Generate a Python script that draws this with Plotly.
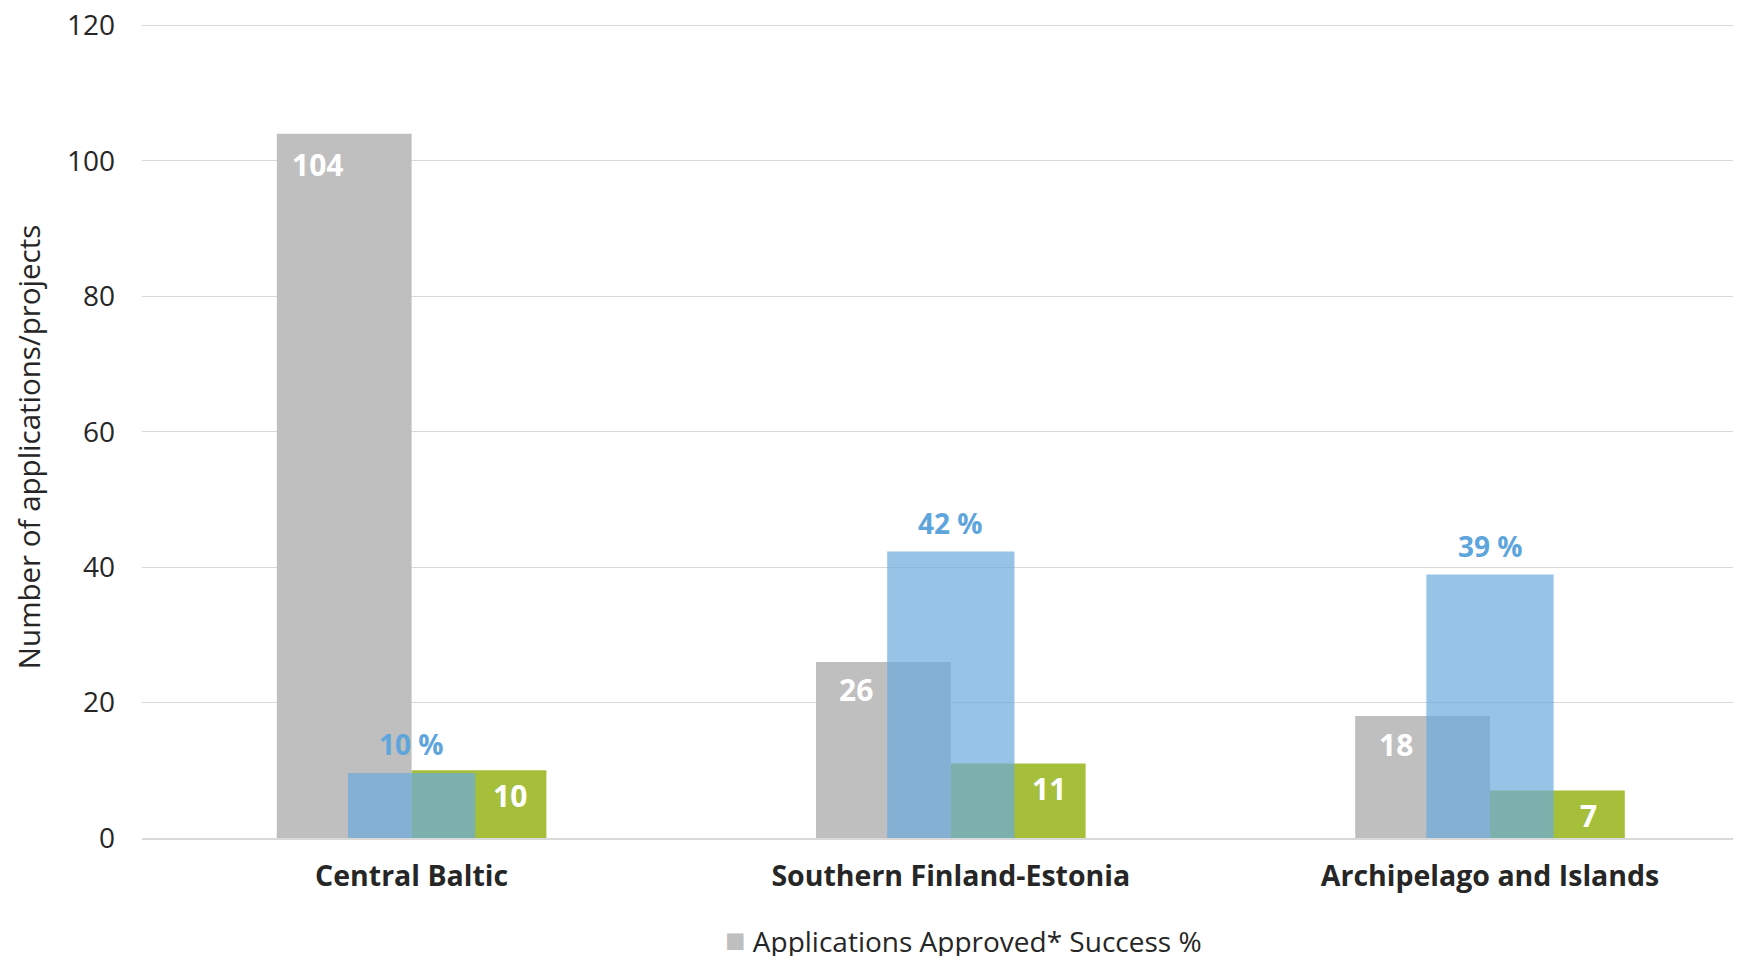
import plotly.graph_objects as go

categories = ["Central Baltic", "Southern Finland-Estonia", "Archipelago and Islands"]
applications = [104, 26, 18]
approved = [10, 11, 7]
success_pct = [9.6, 42.3, 38.9]
success_labels = ["10 %", "42 %", "39 %"]
y_ticks = [0, 20, 40, 60, 80, 100, 120]

GRAY = "#BFBFBF"
GREEN = "#A5BF3B"
BLUE = "rgba(107,169,221,0.7)"
BLUE_TXT = "#5DA5DB"
FONT = "Open Sans"

xs = list(range(len(categories)))

fig = go.Figure()
fig.add_trace(go.Bar(x=xs, y=applications, name="Applications", marker=dict(color=GRAY, line=dict(width=0)),
                     offset=-0.25, width=0.25))
fig.add_trace(go.Bar(x=xs, y=approved, name="Approved*", marker=dict(color=GREEN, line=dict(width=0)),
                     offset=0.0, width=0.25))
fig.add_trace(go.Bar(x=xs, y=success_pct, name="Success %", marker=dict(color=BLUE, line=dict(width=0)),
                     offset=-0.118, width=0.236))

annotations = []
for i, v in enumerate(applications):
    annotations.append(dict(x=xs[i] - 0.175, y=v, xref="x", yref="y", text=str(v), showarrow=False,
                            yanchor="middle", yshift=-31 if v > 100 else -28,
                            font=dict(family=FONT, size=30, color="white", weight="bold")))
for i, v in enumerate(approved):
    annotations.append(dict(x=xs[i] + 0.183, y=v, xref="x", yref="y", text=str(v), showarrow=False,
                            yanchor="middle", yshift=-25,
                            font=dict(family=FONT, size=30, color="white", weight="bold")))
for i, v in enumerate(success_pct):
    annotations.append(dict(x=xs[i], y=v, xref="x", yref="y", text=success_labels[i], showarrow=False,
                            yanchor="middle", yshift=29,
                            font=dict(family=FONT, size=28, color=BLUE_TXT, weight="bold")))
# y-axis title (slightly below the plot centre, as in the original)
annotations.append(dict(x=-0.0713, y=0.479, xref="paper", yref="paper", showarrow=False,
                        xanchor="center", yanchor="middle", textangle=-90,
                        text="Number of applications/projects",
                        font=dict(family=FONT, size=29.5, color="#262626")))
# bottom legend line (clipped in the original)
annotations.append(dict(x=0.514, y=-0.124, xref="paper", yref="paper", showarrow=False,
                        xanchor="center", yanchor="middle",
                        text="<span style='color:#BFBFBF;font-size:34px'>■</span> Applications Approved* Success %",
                        font=dict(family=FONT, size=28, color="#262626")))

fig.update_layout(
    width=1733, height=956,
    margin=dict(l=134, r=0, t=14, b=126),
    paper_bgcolor="white", plot_bgcolor="white",
    barmode="overlay", showlegend=False,
    annotations=annotations,
    font=dict(family=FONT, color="#262626"),
)
fig.update_xaxes(
    range=[-0.5, 2.4655], tickmode="array", tickvals=xs, ticktext=categories,
    tickfont=dict(family=FONT, size=28.5, color="#262626", weight="bold"),
    showgrid=False, showline=True, linecolor="#D9D9D9", linewidth=1.5,
    ticks="", ticklabelstandoff=12, zeroline=False,
)
fig.update_yaxes(
    range=[0, 120.5], tickmode="array", tickvals=y_ticks,
    tickfont=dict(family=FONT, size=28, color="#262626"),
    showgrid=True, gridcolor="#D9D9D9", gridwidth=1.2, zeroline=False,
    ticks="", ticklabelstandoff=26, ticklabeloverflow="allow",
    automargin=False,
)

fig.write_html("out.html")
